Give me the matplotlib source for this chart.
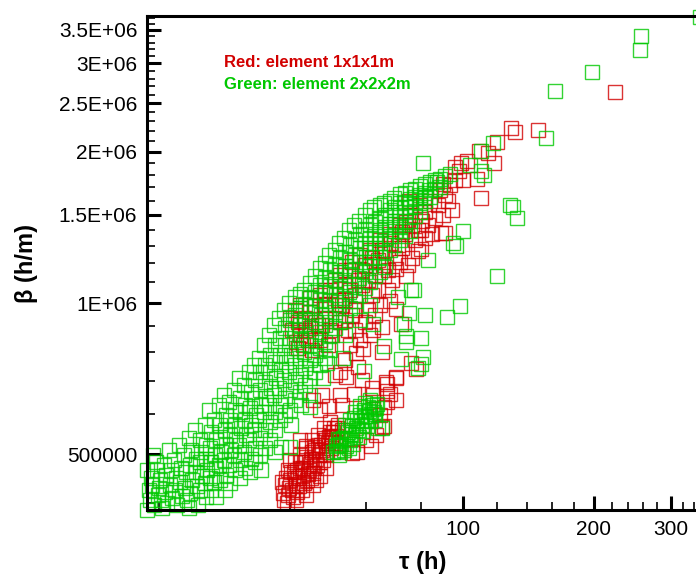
import matplotlib
matplotlib.use('Agg')
import matplotlib.pyplot as plt
from matplotlib.ticker import FixedLocator, NullFormatter

plt.rcParams['font.family'] = ['Liberation Sans', 'DejaVu Sans']

# tau in h, beta in units of 1e6 h/m
tau_red = [
    224, 149, 129, 132, 120, 114, 109, 118, 102, 99, 96, 98, 108, 100, 90, 110, 89, 91, 80, 74,
    75, 74, 80, 85, 82, 79, 70, 66, 68, 70, 62, 59, 72, 78, 76, 70, 67, 68, 70, 66, 66, 65, 65,
    88.5, 90.9, 93.3, 95.8, 92.3, 87.6, 94.3, 89.9,
    79.6, 81.7, 83.9, 86.2, 83.0, 80.4,
    71.6, 73.5, 75.5, 77.5, 72.3, 76.3, 78.7, 74.7,
    64.4, 66.1, 67.9, 69.7, 65.4, 68.6, 70.8, 67.2,
    57.9, 59.5, 61.1, 62.7, 58.5, 61.7, 63.7, 60.4,
    52.1, 53.5, 54.9, 56.4, 52.7, 55.5, 57.3, 54.3,
    46.9, 48.2, 49.4, 50.8, 47.4, 50.1, 51.5, 48.9,
    42.2, 43.3, 44.5, 45.7, 42.9, 45.0, 46.4, 44.0, 40.4, 41.3, 41.7,
    53.5, 56.4, 59.5, 62.7, 64.4, 57.9, 54.9, 61.1,
    41.1, 42.2, 43.3, 44.5, 45.7, 46.9, 48.2, 49.4, 50.8, 52.1,
    53.5, 42.2, 44.5, 48.2, 50.8, 54.9, 56.4, 45.7, 40.0, 41.7,
    55.5, 58.5, 61.7, 65.0, 68.3, 72.3, 76.3, 67.2, 60.4, 71.6, 53.5, 63.7,
    38.5, 38.9, 39.6, 40.0, 40.4, 40.9, 41.3, 41.7, 42.2, 42.7, 42.9, 43.3, 43.8, 44.3, 44.7,
    45.2, 45.7, 46.2, 46.7, 47.1, 47.6, 48.2, 48.7, 49.2, 49.7, 50.2, 50.8, 51.3, 52.1,
    39.6, 41.1, 42.2, 43.6, 45.0, 46.4, 48.0, 49.4,
    38.3, 39.3, 41.3, 43.6, 45.2, 46.9, 48.4, 41.5, 45.9, 40.0, 42.2, 43.6, 45.7,
    39.1, 39.8, 40.2, 40.7, 41.5, 41.9, 42.4, 43.1, 44.0, 44.5, 45.0, 45.5, 45.9, 46.4, 46.9,
    47.4, 48.0, 48.4, 48.9, 49.4, 49.9, 50.5, 51.0, 51.5, 52.6, 41.1, 42.9, 44.7, 38.7, 43.6,
    56.1, 49.2, 46.9, 62.0, 66.4, 70.1, 53.8, 57.3, 56.7, 66.8, 66.8, 65.0, 61.4, 57.0,
    55.5, 49.7, 59.8, 63.0, 64.4, 61.7, 58.5, 52.1, 50.8, 53.5, 45.2, 47.4, 52.7, 52.1,
]
beta_red = [
    2.63, 2.21, 2.23, 2.19, 2.09, 1.99, 2.01, 1.90, 1.92, 1.90, 1.87, 1.83, 1.77, 1.76, 1.73, 1.62, 1.38, 1.38, 1.28, 1.13,
    1.60, 1.45, 1.40, 1.37, 1.35, 1.27, 1.17, 1.13, 1.01, 0.975, 0.884, 0.81, 0.908, 0.74, 0.76, 0.71, 0.69, 0.66, 0.64, 0.62, 0.57, 0.80, 0.895,
    1.68, 1.64, 1.72, 1.76, 1.60, 1.57, 1.53, 1.50,
    1.57, 1.52, 1.60, 1.48, 1.43, 1.46,
    1.43, 1.37, 1.50, 1.335, 1.287, 1.229, 1.40, 1.19,
    1.335, 1.275, 1.37, 1.229, 1.19, 1.111, 1.305, 1.061,
    1.246, 1.19, 1.275, 1.137, 1.086, 1.037, 1.218, 0.968,
    1.137, 1.086, 1.163, 1.037, 0.991, 0.946, 1.111, 0.884,
    1.037, 0.991, 1.061, 0.933, 0.904, 0.863, 1.014, 0.825,
    0.925, 0.884, 0.959, 0.852, 0.825, 0.806, 0.904, 0.844, 0.884, 0.836, 0.917,
    0.925, 0.884, 0.917, 0.946, 0.991, 0.844, 0.825, 0.863,
    0.968, 0.863, 0.933, 0.892, 0.991, 0.844, 0.933, 0.884, 0.991, 0.917,
    1.014, 0.991, 1.023, 1.061, 1.111, 1.061, 0.968, 0.917, 0.933, 0.813,
    1.207, 1.163, 1.229, 1.275, 1.318, 1.382, 1.43, 1.163, 1.111, 1.207, 1.163, 1.061,
    0.418, 0.434, 0.414, 0.444, 0.424, 0.461, 0.434, 0.448, 0.469, 0.424, 0.454, 0.482, 0.444, 0.465, 0.490,
    0.458, 0.509, 0.475, 0.498, 0.521, 0.486, 0.533, 0.505, 0.541, 0.514, 0.553, 0.526, 0.563, 0.538,
    0.465, 0.482, 0.498, 0.514, 0.533, 0.546, 0.563, 0.580,
    0.440, 0.400, 0.405, 0.414, 0.434, 0.452, 0.469, 0.420, 0.444, 0.486, 0.533, 0.519, 0.516,
    0.448, 0.428, 0.461, 0.410, 0.465, 0.432, 0.482, 0.438, 0.456, 0.477, 0.505, 0.469, 0.490, 0.521, 0.482,
    0.509, 0.538, 0.498, 0.526, 0.553, 0.533, 0.563, 0.543, 0.572, 0.558, 0.448, 0.469, 0.448, 0.405, 0.494,
    0.659, 0.624, 0.612, 0.656, 0.696, 0.712, 0.712, 0.746, 0.795, 0.668, 0.635, 0.566, 0.519, 0.505,
    0.503, 0.541, 0.533, 0.546, 0.599, 0.677, 0.703, 0.656, 0.719, 0.770, 0.641, 0.656, 0.627, 0.729,
]

tau_green = [
    350, 257, 255, 198, 163, 155, 117, 110, 104, 110, 112, 81, 87, 128, 130, 133, 120,
    98.4, 92, 100, 95, 96.5, 83, 76, 82, 80, 74, 81, 79, 80, 72, 74, 75, 71, 77, 66, 65, 82, 73, 62,
    18.8, 18.8,
    19.0, 19.2, 19.1,
    19.4, 19.3, 19.5,
    19.8, 19.9, 19.7,
    20.1, 20.2, 20.0, 20.3,
    20.6, 20.8, 20.7, 20.9,
    21.1, 21.3, 21.2, 21.4,
    21.7, 21.9, 21.8, 22.0,
    22.3, 22.5, 22.4, 22.6,
    22.9, 23.1, 23.0, 23.2, 23.4,
    23.5, 23.7, 23.6, 23.8, 23.6,
    24.2, 24.4, 24.3, 24.5, 24.6,
    24.8, 25.0, 24.9, 25.1, 24.9,
    25.5, 25.7, 25.6, 25.8, 25.5, 25.7,
    26.1, 26.3, 26.2, 26.4, 26.2, 26.3,
    26.8, 27.0, 26.9, 27.1, 26.8, 27.0,
    27.5, 27.7, 27.6, 27.8, 27.5, 27.7,
    28.3, 28.5, 28.4, 28.6, 28.3, 28.5, 28.4,
    29.0, 29.2, 29.1, 29.3, 29.0, 29.2,
    29.8, 30.0, 29.9, 30.1, 29.8, 30.0,
    30.6, 30.8, 30.7, 30.9, 30.6, 30.8, 30.7,
    31.4, 31.6, 31.5, 31.7, 31.4, 31.6,
    32.3, 32.5, 32.4, 32.6, 32.3, 32.5, 32.4,
    33.1, 33.3, 33.2, 33.4, 33.1, 33.3, 33.2,
    34.0, 34.2, 34.1, 34.3, 34.0, 34.2, 34.1, 34.4,
    34.9, 35.1, 35.0, 35.2, 34.9, 35.1, 35.0,
    35.9, 36.1, 36.0, 36.2, 35.9, 36.1, 36.0,
    36.8, 37.0, 36.9, 37.1, 36.8, 37.0, 36.9, 36.9,
    37.8, 38.0, 37.9, 38.1, 37.8, 38.0, 37.9, 38.2,
    38.8, 39.0, 38.9, 39.1, 38.8, 39.0, 38.9,
    39.9, 40.1, 40.0, 40.2, 39.9, 40.1, 40.0, 40.3,
    41.0, 41.2, 41.1, 41.3, 41.0, 41.2, 41.1,
    42.1, 42.3, 42.2, 42.4, 42.1, 42.3, 42.2, 42.5,
    43.2, 43.4, 43.3, 43.5, 43.2, 43.4, 43.3,
    44.4, 44.6, 44.5, 44.7, 44.4, 44.6, 44.5, 44.5,
    45.6, 45.8, 45.7, 45.9, 45.6, 45.8, 45.7,
    46.8, 47.0, 46.9, 47.1, 46.8, 47.0, 46.9,
    48.1, 48.3, 48.2, 48.4, 48.1, 48.3, 48.2,
    49.3, 49.5, 49.4, 49.6, 49.3, 49.5, 49.4,
    50.7, 50.9, 50.8, 51.0, 50.7, 50.9,
    52.0, 52.2, 52.1, 52.3, 52.0, 52.2,
    53.4, 53.6, 53.5, 53.7, 53.4, 53.6, 53.5,
    54.8, 55.0, 54.9, 55.1, 54.8, 55.0,
    56.3, 56.5, 56.4, 56.6, 56.3, 56.5,
    57.8, 58.0, 57.9, 58.1, 57.8, 58.0, 57.9,
    59.4, 59.6, 59.5, 59.7, 59.4, 59.6,
    61.0, 61.2, 61.1, 61.3, 61.0, 61.2, 61.1,
    62.6, 62.8, 62.7, 62.9, 62.6, 62.8,
    64.3, 64.5, 64.4, 64.6, 64.3, 64.5,
    66.0, 66.2, 66.1, 66.3, 66.0, 66.2,
    67.8, 68.0, 67.9, 68.1, 67.8,
    69.6, 69.8, 69.7, 69.9, 69.6,
    71.5, 71.7, 71.6, 71.8, 71.5,
    73.4, 73.6, 73.5, 73.7, 73.4,
    75.4, 75.6, 75.5, 75.7, 75.4,
    77.4, 77.6, 77.5, 77.7,
    79.5, 79.7, 79.6, 79.8,
    81.6, 81.8, 81.7,
    83.8, 84.0, 83.9,
    86.1, 86.3,
    88.4, 88.6,
    90.9, 93.3,
    50.2, 51.6, 52.1, 52.9, 53.8, 54.3, 54.9, 55.5, 56.4, 57.0, 57.3, 57.9, 58.5, 59.2, 59.8, 60.4, 61.1, 61.7, 62.4, 63.0,
    53.5, 56.4, 59.5, 52.1, 54.9, 57.9, 61.1, 51.3, 62.7, 63.7, 59.2, 52.9, 47.6, 48.7, 44.5, 40.0,
    51.0, 51.8, 52.4, 53.2, 54.0, 54.6, 55.2, 55.8, 56.7, 57.6, 58.2,
    58.9, 59.5, 60.1, 60.8, 61.4, 62.0, 62.7, 63.3, 56.1, 53.8, 51.6,
]
beta_green = [
    3.72, 3.40, 3.19, 2.89, 2.65, 2.13, 2.08, 2.01, 1.88, 1.83, 1.80, 1.90, 1.74, 1.57, 1.55, 1.48, 1.13,
    0.986, 0.94, 1.39, 1.32, 1.30, 1.22, 1.06, 0.945, 0.85, 0.836, 0.78, 0.742, 0.755, 0.774, 0.86, 0.955, 1.03, 1.06, 0.82, 0.565, 1.63, 0.91, 0.91,
    0.387, 0.465,
    0.424, 0.448, 0.405,
    0.498, 0.434, 0.396,
    0.465, 0.414, 0.482,
    0.444, 0.405, 0.428, 0.391,
    0.475, 0.454, 0.420, 0.400,
    0.509, 0.465, 0.434, 0.409,
    0.486, 0.448, 0.424, 0.396,
    0.521, 0.469, 0.440, 0.412,
    0.498, 0.461, 0.428, 0.405, 0.391,
    0.538, 0.509, 0.475, 0.444, 0.418,
    0.558, 0.490, 0.461, 0.432, 0.396,
    0.533, 0.505, 0.482, 0.452, 0.424,
    0.572, 0.521, 0.490, 0.465, 0.438, 0.410,
    0.612, 0.553, 0.514, 0.482, 0.448, 0.424,
    0.585, 0.533, 0.498, 0.469, 0.440, 0.410,
    0.627, 0.572, 0.541, 0.505, 0.475, 0.444,
    0.656, 0.599, 0.558, 0.521, 0.486, 0.454, 0.424,
    0.635, 0.585, 0.546, 0.509, 0.475, 0.438,
    0.671, 0.612, 0.572, 0.533, 0.498, 0.465,
    0.709, 0.647, 0.607, 0.563, 0.521, 0.486, 0.448,
    0.687, 0.627, 0.585, 0.546, 0.505, 0.469,
    0.729, 0.665, 0.618, 0.572, 0.533, 0.490, 0.461,
    0.753, 0.703, 0.647, 0.599, 0.558, 0.514, 0.482,
    0.777, 0.729, 0.671, 0.627, 0.585, 0.538, 0.498, 0.465,
    0.825, 0.753, 0.696, 0.647, 0.607, 0.558, 0.514,
    0.863, 0.788, 0.729, 0.678, 0.627, 0.580, 0.533,
    0.904, 0.825, 0.763, 0.709, 0.656, 0.607, 0.558, 0.505,
    0.933, 0.852, 0.788, 0.736, 0.678, 0.627, 0.585, 0.516,
    0.968, 0.892, 0.825, 0.763, 0.703, 0.647, 0.599,
    1.000, 0.925, 0.852, 0.788, 0.729, 0.671, 0.612, 0.572,
    1.028, 0.946, 0.884, 0.813, 0.753, 0.696, 0.641,
    1.042, 0.977, 0.904, 0.844, 0.777, 0.719, 0.665, 0.627,
    1.061, 0.991, 0.925, 0.852, 0.799, 0.743, 0.687,
    1.096, 1.023, 0.959, 0.892, 0.825, 0.770, 0.709, 0.656,
    1.132, 1.051, 0.986, 0.917, 0.852, 0.788, 0.729,
    1.174, 1.086, 1.014, 0.946, 0.876, 0.813, 0.753,
    1.200, 1.121, 1.046, 0.977, 0.904, 0.836, 0.777,
    1.246, 1.163, 1.081, 1.009, 0.933, 0.863, 0.806,
    1.275, 1.190, 1.111, 1.037, 0.959, 0.892,
    1.318, 1.229, 1.153, 1.071, 0.991, 0.917,
    1.347, 1.263, 1.185, 1.101, 1.023, 0.946, 0.863,
    1.40, 1.305, 1.218, 1.137, 1.051, 0.977,
    1.43, 1.335, 1.246, 1.163, 1.086, 1.009,
    1.46, 1.37, 1.287, 1.207, 1.121, 1.037, 0.925,
    1.50, 1.40, 1.318, 1.235, 1.153, 1.071,
    1.53, 1.43, 1.347, 1.263, 1.185, 1.101, 0.991,
    1.55, 1.45, 1.37, 1.287, 1.207, 1.132,
    1.57, 1.48, 1.40, 1.318, 1.235, 1.153,
    1.58, 1.50, 1.42, 1.34, 1.263, 1.179,
    1.60, 1.53, 1.44, 1.36, 1.275,
    1.62, 1.55, 1.46, 1.39, 1.305,
    1.65, 1.58, 1.50, 1.42, 1.335,
    1.66, 1.59, 1.52, 1.44, 1.36,
    1.68, 1.61, 1.55, 1.46, 1.39,
    1.69, 1.63, 1.56, 1.49,
    1.71, 1.64, 1.58, 1.52,
    1.73, 1.66, 1.60,
    1.74, 1.68, 1.63,
    1.76, 1.69,
    1.77, 1.70,
    1.79, 1.81,
    0.505, 0.521, 0.505, 0.538, 0.519, 0.553, 0.533, 0.569, 0.546, 0.585, 0.558, 0.599, 0.572, 0.612, 0.585, 0.621, 0.596, 0.627, 0.607, 0.618,
    0.572, 0.607, 0.632, 0.533, 0.585, 0.624, 0.641, 0.507, 0.585, 0.563, 0.733, 0.777, 0.709, 0.760, 0.621, 0.516,
    0.519, 0.498, 0.524, 0.509, 0.538, 0.514, 0.548, 0.524, 0.563, 0.541, 0.582,
    0.556, 0.596, 0.569, 0.610, 0.582, 0.615, 0.601, 0.630, 0.590, 0.558, 0.536,
]

x_major = [100, 200, 300]
x_major_labels = ['100', '200', '300']
x_minor = [20, 40, 60, 80, 120, 140, 160, 180, 220, 240, 260, 280, 320, 340]
y_major = [5e5, 1e6, 1.5e6, 2e6, 2.5e6, 3e6, 3.5e6]
y_major_labels = ['500000', '1E+06', '1.5E+06', '2E+06', '2.5E+06', '3E+06', '3.5E+06']
y_minor = [4e5, 6e5, 7e5, 8e5, 9e5, 1.1e6, 1.2e6, 1.3e6, 1.4e6, 1.6e6, 1.7e6, 1.8e6,
           1.9e6, 2.1e6, 2.2e6, 2.3e6, 2.4e6, 2.6e6, 2.7e6, 2.8e6, 2.9e6, 3.1e6,
           3.2e6, 3.3e6, 3.4e6, 3.6e6, 3.7e6]

red = '#d20000'
green = '#00c800'

fig = plt.figure(figsize=(6.96, 5.78), dpi=100)
ax = fig.add_axes([0.2112, 0.1176, 0.7917, 0.8547])

ax.plot(tau_red, [b * 1e6 for b in beta_red], 's', ls='none', mfc='none',
        mec=red, ms=10, mew=1.0, alpha=0.8, clip_on=False)
ax.plot(tau_green, [b * 1e6 for b in beta_green], 's', ls='none', mfc='none',
        mec=green, ms=10, mew=1.0, alpha=0.8, clip_on=False)

ax.set_xscale('log')
ax.set_yscale('log')
ax.set_xlim(18.78, 347)
ax.set_ylim(3.87e5, 3.73e6)

ax.xaxis.set_major_locator(FixedLocator(x_major))
ax.set_xticklabels(x_major_labels)
ax.xaxis.set_minor_locator(FixedLocator(x_minor))
ax.xaxis.set_minor_formatter(NullFormatter())
ax.yaxis.set_major_locator(FixedLocator(y_major))
ax.set_yticklabels(y_major_labels)
ax.yaxis.set_minor_locator(FixedLocator(y_minor))
ax.yaxis.set_minor_formatter(NullFormatter())

ax.tick_params(which='both', direction='in', top=False, right=False)
ax.tick_params(which='major', length=10, width=2.2, labelsize=15, pad=7)
ax.tick_params(which='minor', length=6, width=1.2)
for side in ['left', 'bottom', 'top']:
    ax.spines[side].set_linewidth(2.2)
ax.spines['right'].set_visible(False)

ax.set_xlabel('τ (h)', fontsize=17, fontweight='bold', va='center')
ax.xaxis.set_label_coords(0.5, -0.107)
ax.set_ylabel('β (h/m)', fontsize=17, fontweight='bold', va='center')
ax.yaxis.set_label_coords(-0.218, 0.5)

fig.text(0.3218, 0.8927, 'Red: element 1x1x1m', color=red, fontsize=12,
         fontweight='bold', va='center')
fig.text(0.3218, 0.853, 'Green: element 2x2x2m', color=green, fontsize=12,
         fontweight='bold', va='center')

fig.savefig('out.png', dpi=100)
